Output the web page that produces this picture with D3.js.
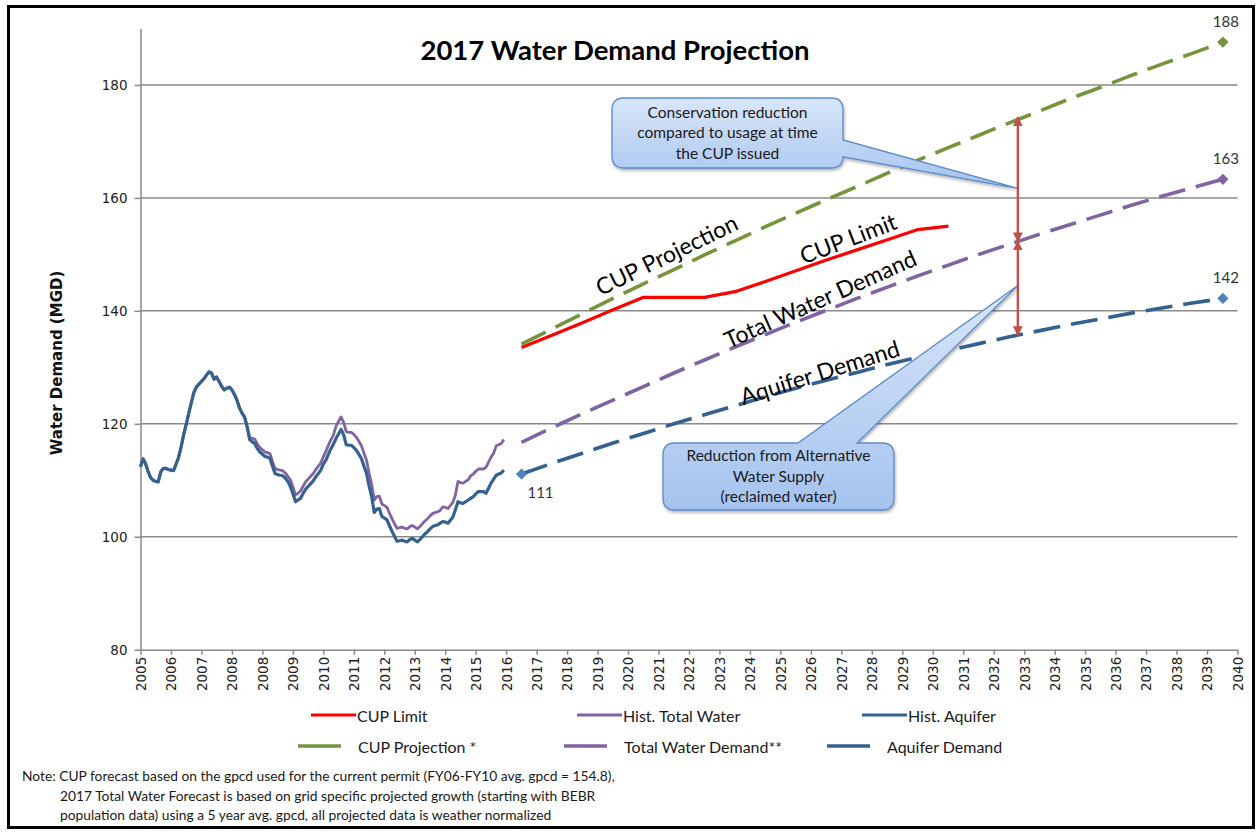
<!DOCTYPE html>
<html>
<head>
<meta charset="utf-8">
<script src="https://cdnjs.cloudflare.com/ajax/libs/d3/7.8.5/d3.min.js"></script>
<style>
  body { margin: 0; background: #fff; }
  svg { display: block; }
  text { font-family: Lato, 'Open Sans', sans-serif; fill: #1a1a1a; }
  .axis text { font-family: 'DejaVu Sans', sans-serif; font-size: 13.5px; fill: #222; }
  .axis path, .axis line { stroke: #8a8a8a; stroke-width: 1.5; }
</style>
</head>
<body>
<svg id="chart" width="1259" height="832"></svg>
<script>
// ---- data ----
const histStartMonth = [2005, 0];   // monthly values from Jan 2005

const histAquifer = [
  112.4, 113.8, 113.0, 111.6, 110.5, 110.0, 109.8, 109.7, 111.5, 112.1, 112.1, 111.9,
  111.8, 111.7, 112.8, 114.0, 115.8, 118.0, 119.8, 121.8, 123.7, 125.5, 126.5, 127.0,
  127.5, 128.0, 128.6, 129.2, 129.0, 127.9, 128.3, 127.5, 126.6, 126.0, 126.3, 126.5,
  126.0, 125.2, 124.2, 122.8, 121.9, 121.2, 119.5, 117.2, 116.8, 116.5, 115.6, 115.0,
  114.6, 114.2, 114.1, 113.9, 112.5, 111.2, 111.0, 110.9, 110.8, 110.4, 109.8, 108.9,
  107.6, 106.2, 106.5, 106.8, 107.6, 108.4, 108.9, 109.4, 109.9, 110.6, 111.2, 111.8,
  112.9, 113.6, 114.6, 115.6, 116.4, 117.4, 118.2, 119.0, 118.0, 116.3, 116.2, 116.2,
  115.8, 115.3, 114.6, 113.8, 112.5, 111.2, 109.0, 107.1, 104.3, 104.9, 105.0, 103.6,
  103.3, 103.0, 102.0, 101.0, 100.1, 99.2, 99.3, 99.4, 99.2, 99.1, 99.5, 99.7,
  99.4, 99.1, 99.5, 100.0, 100.5, 100.9, 101.4, 101.8, 102.0, 102.1, 102.4, 102.7,
  102.6, 102.4, 102.9, 103.5, 104.8, 106.2, 106.0, 105.9, 106.2, 106.5, 106.8, 107.1,
  107.6, 108.0, 108.0, 108.0, 107.7, 108.6, 109.5, 110.2, 110.9, 111.1, 111.3, 111.8
];

const histTotal = [
  112.4, 113.8, 113.0, 111.6, 110.5, 110.0, 109.8, 109.7, 111.5, 112.1, 112.1, 111.9,
  111.8, 111.7, 112.8, 114.0, 115.8, 118.0, 119.8, 121.8, 123.7, 125.5, 126.5, 127.0,
  127.5, 128.0, 128.6, 129.2, 129.0, 127.9, 128.3, 127.5, 126.6, 126.0, 126.3, 126.5,
  126.0, 125.2, 124.2, 122.8, 121.9, 121.2, 119.5, 117.5, 117.4, 117.3, 116.4, 115.8,
  115.4, 115.0, 114.9, 114.7, 113.3, 112.1, 111.9, 111.8, 111.7, 111.3, 110.7, 110.1,
  108.8, 107.4, 107.7, 108.1, 108.9, 109.7, 110.2, 110.7, 111.2, 111.9, 112.5, 113.1,
  114.2, 115.2, 116.2, 117.2, 118.0, 119.6, 120.4, 121.2, 120.2, 118.6, 118.5, 118.5,
  118.1, 117.6, 116.9, 116.1, 114.8, 113.5, 111.3, 109.3, 106.5, 107.1, 107.2, 105.8,
  105.5, 105.2, 104.2, 103.2, 102.3, 101.5, 101.6, 101.7, 101.5, 101.4, 101.8, 102.0,
  101.7, 101.4, 101.8, 102.3, 102.8, 103.2, 103.7, 104.1, 104.3, 104.4, 104.7, 105.3,
  105.2, 105.0, 105.5, 106.1, 107.4, 109.8, 109.6, 109.5, 109.8, 110.1, 110.8, 111.1,
  111.6, 112.0, 112.0, 112.0, 112.3, 113.2, 114.1, 114.8, 116.1, 116.3, 116.5, 117.2
];

// projections, one value per year (mid-year)
const projYears = [2017, 2018, 2019, 2020, 2021, 2022, 2023, 2024, 2025, 2026, 2027, 2028,
                   2029, 2030, 2031, 2032, 2033, 2034, 2035, 2036, 2037, 2038, 2039, 2040];
const cupProjection = [134.1, 136.8, 139.5, 142.2, 144.8, 147.3, 149.9, 152.4, 154.9, 157.3, 159.7, 162.0,
                       164.4, 166.7, 168.9, 171.1, 173.3, 175.4, 177.6, 179.6, 181.7, 183.7, 185.6, 187.6];
const totalDemand = [116.7, 119.3, 121.8, 124.2, 126.6, 129.0, 131.3, 133.6, 135.8, 138.0, 140.1, 142.2,
                     144.2, 146.2, 148.1, 150.0, 151.8, 153.6, 155.3, 157.0, 158.7, 160.3, 161.8, 163.3];
const aquiferDemand = [111.1, 113.0, 114.8, 116.6, 118.3, 120.0, 121.6, 123.2, 124.8, 126.3, 127.7, 129.1,
                       130.5, 131.8, 133.0, 134.2, 135.4, 136.5, 137.6, 138.6, 139.6, 140.5, 141.4, 142.2];

const cupLimitYears = [2017, 2018, 2019, 2020, 2021, 2022, 2023, 2024, 2025, 2026, 2027, 2028, 2029, 2030, 2031];
const cupLimit = [133.5, 135.7, 137.9, 140.2, 142.4, 142.4, 142.4, 143.4, 145.2, 147.1, 149.0, 150.8, 152.6, 154.4, 155.0];

const yTicks = [80, 100, 120, 140, 160, 180];

const noteLines = [
  'Note: CUP forecast based on the gpcd used for the current permit (FY06-FY10 avg. gpcd = 154.8),',
  '2017 Total Water Forecast is based on grid specific projected growth (starting with BEBR',
  'population data) using a 5 year avg. gpcd, all projected data is weather normalized'
];

// ---- colours ----
const COLORS = {
  red: '#FF0000',
  purple: '#8064A2',
  navy: '#34618F',
  green: '#77933C',
  markerBlue: '#4F81BD',
  arrow: '#C0504D'
};

const svg = d3.select('#chart');
svg.append('rect').attr('width', 1259).attr('height', 832).attr('fill', '#fff');

// outer frame
svg.append('rect')
  .attr('x', 8.5).attr('y', 6.5)
  .attr('width', 1245).attr('height', 821)
  .attr('fill', 'none')
  .attr('stroke', '#000')
  .attr('stroke-width', 3);

// ---- scales ----
// Excel date axis: major unit of 365 days starting 1 Jan 2005
const axisStart = new Date(Date.UTC(2005, 0, 1));
const tickDates = d3.range(37).map(k => d3.utcDay.offset(axisStart, 365 * k));

const x = d3.scaleUtc()
  .domain([axisStart, tickDates[tickDates.length - 1]])
  .range([140.5, 1237.5]);

const y = d3.scaleLinear()
  .domain([80, 190])
  .range([649.7, 28.5]);

const midYear = yr => new Date(Date.UTC(yr, 6, 1));
const histDate = i => d3.utcMonth.offset(new Date(Date.UTC(histStartMonth[0], histStartMonth[1], 1)), i);

// gridlines
svg.append('g')
  .attr('class', 'grid')
  .selectAll('line')
  .data(yTicks.filter(d => d > 80))
  .enter()
  .append('line')
  .attr('x1', x.range()[0]).attr('x2', x.range()[1])
  .attr('y1', d => y(d)).attr('y2', d => y(d))
  .attr('stroke', '#8a8a8a')
  .attr('stroke-width', 1.5);

// axes
svg.append('g')
  .attr('class', 'axis')
  .attr('transform', `translate(${x.range()[0]},0)`)
  .call(d3.axisLeft(y).tickValues(yTicks).tickSize(6).tickSizeOuter(0).tickPadding(7));

const xAxis = svg.append('g')
  .attr('class', 'axis')
  .attr('transform', `translate(0,${y.range()[0]})`)
  .call(d3.axisBottom(x).tickValues(tickDates).tickFormat(d3.utcFormat('%Y')).tickSize(5).tickSizeOuter(0));

xAxis.selectAll('.tick text')
  .attr('transform', 'rotate(-90)')
  .attr('text-anchor', 'end')
  .attr('x', -7)
  .attr('y', 0)
  .attr('dy', '0.36em');

// axis title
svg.append('text')
  .attr('transform', 'translate(57,363) rotate(-90)')
  .attr('text-anchor', 'middle')
  .attr('dominant-baseline', 'central')
  .style('font-family', "'DejaVu Sans', sans-serif")
  .style('font-size', '15px')
  .style('font-weight', 'bold')
  .style('fill', '#111')
  .text('Water Demand (MGD)');

// chart title
svg.append('text')
  .attr('x', 615).attr('y', 60)
  .attr('text-anchor', 'middle')
  .style('font-size', '27.5px')
  .style('font-weight', 'bold')
  .style('fill', '#000')
  .text('2017 Water Demand Projection');

// ---- series ----
const line = d3.line()
  .x(d => x(d.date))
  .y(d => y(d.value));

const histSeries = [
  { name: 'Hist. Total Water', color: COLORS.purple, width: 2.8, values: histTotal },
  { name: 'Hist. Aquifer', color: COLORS.navy, width: 3.2, values: histAquifer }
];

const projSeries = [
  { name: 'CUP Projection *', color: COLORS.green, marker: COLORS.green, values: cupProjection },
  { name: 'Total Water Demand**', color: COLORS.purple, marker: COLORS.purple, values: totalDemand },
  { name: 'Aquifer Demand', color: COLORS.navy, marker: COLORS.markerBlue, values: aquiferDemand }
];

const lines = svg.append('g').attr('class', 'lines');

lines.selectAll('path.hist')
  .data(histSeries)
  .enter()
  .append('path')
  .attr('class', 'hist')
  .attr('fill', 'none')
  .attr('stroke', d => d.color)
  .attr('stroke-width', d => d.width)
  .attr('stroke-linejoin', 'round')
  .attr('d', d => line(d.values.map((v, i) => ({ date: histDate(i), value: v }))));

lines.append('path')
  .attr('fill', 'none')
  .attr('stroke', COLORS.red)
  .attr('stroke-width', 3.2)
  .attr('stroke-linejoin', 'round')
  .attr('d', line(cupLimit.map((v, i) => ({ date: midYear(cupLimitYears[i]), value: v }))));

lines.selectAll('path.proj')
  .data(projSeries)
  .enter()
  .append('path')
  .attr('class', 'proj')
  .attr('fill', 'none')
  .attr('stroke', d => d.color)
  .attr('stroke-width', 3.6)
  .attr('stroke-dasharray', '27,11')
  .attr('d', d => line(d.values.map((v, i) => ({ date: midYear(projYears[i]), value: v }))));

// markers on the ends (square turned 45 degrees, like Excel's diamond)
const diamond = d3.symbol().type(d3.symbolSquare).size(64);
const markerData = projSeries.map(s => ({
  color: s.marker,
  date: midYear(projYears[projYears.length - 1]),
  value: s.values[s.values.length - 1],
  label: d3.format('.0f')(s.values[s.values.length - 1]),
  dx: 3, dy: -21
}));
markerData.push({
  color: COLORS.markerBlue,
  date: midYear(projYears[0]),
  value: aquiferDemand[0],
  label: d3.format('.0f')(aquiferDemand[0]),
  dx: 19, dy: 18
});

const marks = svg.append('g').attr('class', 'markers');
marks.selectAll('path')
  .data(markerData)
  .enter()
  .append('path')
  .attr('d', diamond)
  .attr('fill', d => d.color)
  .attr('transform', d => `translate(${x(d.date)},${y(d.value)}) rotate(45)`);

marks.selectAll('text')
  .data(markerData)
  .enter()
  .append('text')
  .attr('x', d => x(d.date) + d.dx)
  .attr('y', d => y(d.value) + d.dy)
  .attr('text-anchor', 'middle')
  .attr('dominant-baseline', 'central')
  .style('font-size', '15px')
  .style('fill', '#333')
  .text(d => d.label);

// ---- series labels on the plot ----
const seriesLabels = [
  { text: 'CUP Projection', date: Date.UTC(2022, 3, 1), value: 150.0, angle: -26 },
  { text: 'CUP Limit', date: Date.UTC(2028, 2, 15), value: 152.9, angle: -21 },
  { text: 'Total Water Demand', date: Date.UTC(2027, 3, 15), value: 142.2, angle: -24 },
  { text: 'Aquifer Demand', date: Date.UTC(2027, 3, 10), value: 129.2, angle: -17.5 }
];

svg.append('g')
  .selectAll('text')
  .data(seriesLabels)
  .enter()
  .append('text')
  .attr('transform', d => `translate(${x(d.date)},${y(d.value)}) rotate(${d.angle})`)
  .attr('text-anchor', 'middle')
  .attr('dominant-baseline', 'central')
  .style('font-size', '23px')
  .style('fill', '#000')
  .text(d => d.text);

// ---- callouts ----
const defs = svg.append('defs');
const grad = defs.append('linearGradient')
  .attr('id', 'calloutFill')
  .attr('x1', 0).attr('y1', 0).attr('x2', 0).attr('y2', 1);
grad.append('stop').attr('offset', '0%').attr('stop-color', '#D9E6F8');
grad.append('stop').attr('offset', '100%').attr('stop-color', '#A5C3EF');

const shadow = defs.append('filter').attr('id', 'shadow')
  .attr('x', '-10%').attr('y', '-10%').attr('width', '130%').attr('height', '140%');
shadow.append('feDropShadow')
  .attr('dx', 1).attr('dy', 2).attr('stdDeviation', 1.5)
  .attr('flood-color', '#000').attr('flood-opacity', 0.3);

function calloutPath(b, side, pa, pb, tip) {
  const { x0, y0, x1, y1, r } = b;
  if (side === 'right') {
    return `M${x0 + r},${y0} H${x1 - r} Q${x1},${y0} ${x1},${y0 + r} V${pa} L${tip[0]},${tip[1]} L${x1},${pb} ` +
      `V${y1 - r} Q${x1},${y1} ${x1 - r},${y1} H${x0 + r} Q${x0},${y1} ${x0},${y1 - r} V${y0 + r} Q${x0},${y0} ${x0 + r},${y0} Z`;
  }
  return `M${x0 + r},${y0} H${pa} L${tip[0]},${tip[1]} L${pb},${y0} H${x1 - r} Q${x1},${y0} ${x1},${y0 + r} ` +
    `V${y1 - r} Q${x1},${y1} ${x1 - r},${y1} H${x0 + r} Q${x0},${y1} ${x0},${y1 - r} V${y0 + r} Q${x0},${y0} ${x0 + r},${y0} Z`;
}

// arrow annotation sits at this date, between the projection lines
const arrowDate = Date.UTC(2033, 9, 10);
const arrowX = x(arrowDate);
const arrowLevels = [174.3, 152.3, 135.7];

const callouts = [
  {
    box: { x0: 612, y0: 98, x1: 843, y1: 168, r: 12 }, side: 'right', pa: 140, pb: 157,
    tip: [arrowX, y(161.7)],
    lines: ['Conservation reduction', 'compared to usage at time', 'the CUP issued']
  },
  {
    box: { x0: 663, y0: 443, x1: 894, y1: 510, r: 12 }, side: 'top', pa: 798, pb: 857,
    tip: [arrowX, y(144.5)],
    lines: ['Reduction from Alternative', 'Water Supply', '(reclaimed water)']
  }
];

const co = svg.append('g').attr('class', 'callouts');
co.selectAll('path')
  .data(callouts)
  .enter()
  .append('path')
  .attr('d', d => calloutPath(d.box, d.side, d.pa, d.pb, d.tip))
  .attr('fill', 'url(#calloutFill)')
  .attr('stroke', '#5B8BC8')
  .attr('stroke-width', 1.3)
  .attr('filter', 'url(#shadow)');

co.selectAll('text')
  .data(callouts)
  .enter()
  .append('text')
  .attr('text-anchor', 'middle')
  .style('font-size', '15.5px')
  .style('fill', '#1a1a1a')
  .each(function (d) {
    const cx = (d.box.x0 + d.box.x1) / 2;
    const cy = (d.box.y0 + d.box.y1) / 2;
    d3.select(this).selectAll('tspan')
      .data(d.lines)
      .enter()
      .append('tspan')
      .attr('x', cx)
      .attr('y', (l, i) => cy + (i - 1) * 20.5)
      .attr('dy', '0.35em')
      .text(l => l);
  });

// red double arrows
defs.append('marker')
  .attr('id', 'arrowHead')
  .attr('viewBox', '0 0 10 10')
  .attr('refX', 9).attr('refY', 5)
  .attr('markerWidth', 10).attr('markerHeight', 10)
  .attr('markerUnits', 'userSpaceOnUse')
  .attr('orient', 'auto-start-reverse')
  .append('path')
  .attr('d', 'M0,0 L10,5 L0,10 Z')
  .attr('fill', COLORS.arrow);

svg.append('g')
  .selectAll('line')
  .data([[arrowLevels[0], arrowLevels[1]], [arrowLevels[1], arrowLevels[2]]])
  .enter()
  .append('line')
  .attr('x1', arrowX).attr('x2', arrowX)
  .attr('y1', d => y(d[0])).attr('y2', d => y(d[1]))
  .attr('stroke', COLORS.arrow)
  .attr('stroke-width', 2.4)
  .attr('marker-start', 'url(#arrowHead)')
  .attr('marker-end', 'url(#arrowHead)');

// ---- legend ----
const legendItems = [
  { name: 'CUP Limit', color: COLORS.red, dashed: false, x: 311, row: 0 },
  { name: 'Hist. Total Water', color: COLORS.purple, dashed: false, x: 577, row: 0 },
  { name: 'Hist. Aquifer', color: COLORS.navy, dashed: false, x: 862, row: 0 },
  { name: projSeries[0].name, color: COLORS.green, dashed: true, x: 311, row: 1 },
  { name: projSeries[1].name, color: COLORS.purple, dashed: true, x: 577, row: 1 },
  { name: projSeries[2].name, color: COLORS.navy, dashed: true, x: 840, row: 1 }
];
const legendRows = [715, 746];

const legend = svg.append('g').attr('class', 'legend');
const li = legend.selectAll('g')
  .data(legendItems)
  .enter()
  .append('g')
  .attr('transform', d => `translate(${d.x},${legendRows[d.row]})`);

li.append('line')
  .attr('x1', d => d.dashed ? -13 : 0)
  .attr('x2', d => d.dashed ? 30 : 45)
  .attr('stroke', d => d.color)
  .attr('stroke-width', d => d.dashed ? 3.6 : 3.2);

li.append('text')
  .attr('x', d => d.dashed ? 47 : 46)
  .attr('dominant-baseline', 'central')
  .style('font-size', '16px')
  .text(d => d.name);

// ---- note ----
svg.append('g')
  .selectAll('text')
  .data(noteLines)
  .enter()
  .append('text')
  .attr('x', (d, i) => i === 0 ? 22 : 60)
  .attr('y', (d, i) => 781 + i * 19.5)
  .style('font-size', '13.8px')
  .style('fill', '#1a1a1a')
  .text(d => d);
</script>
</body>
</html>
